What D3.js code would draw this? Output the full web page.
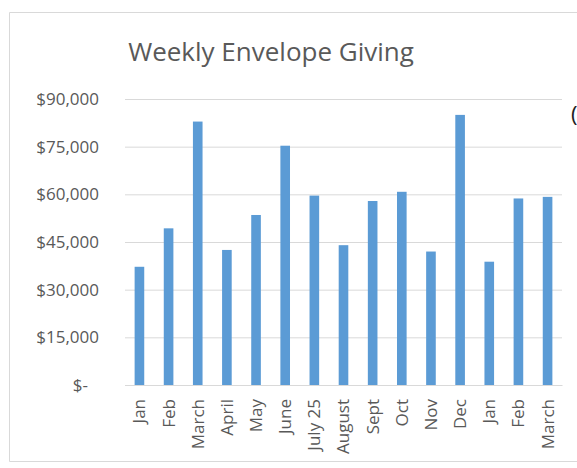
<!DOCTYPE html>
<html>
<head>
<meta charset="utf-8">
<script src="https://cdn.jsdelivr.net/npm/d3@7"></script>
<style>
  html, body { margin: 0; background: #fff; overflow: hidden; }
  svg { display: block; }
  text { font-family: "Open Sans", sans-serif; }
</style>
</head>
<body>
<div id="chart"></div>
<script>
const months = ["Jan", "Feb", "March", "April", "May", "June", "July 25", "August",
  "Sept", "Oct", "Nov", "Dec", "Jan", "Feb", "March"];
const giving = [37200, 49300, 82900, 42500, 53500, 75300, 59600, 44000,
  57900, 60800, 42000, 85000, 38800, 58700, 59200];
const yTicks = [0, 15000, 30000, 45000, 60000, 75000, 90000];
const yTickLabels = ["$-", "$15,000", "$30,000", "$45,000", "$60,000", "$75,000", "$90,000"];

const width = 577;
const height = 468;
const margin = { left: 125, right: 15, top: 99, bottom: 83 };

const svg = d3.select("#chart").append("svg")
  .attr("width", width)
  .attr("height", height);

// chart frame, right side runs off the picture
svg.append("path")
  .attr("d", "M600,12.5H9.5V461.5H600")
  .attr("fill", "none")
  .attr("stroke", "#d9d9d9");

svg.append("text")
  .attr("x", 271).attr("y", 61)
  .attr("text-anchor", "middle")
  .attr("font-size", 26)
  .attr("fill", "#595959")
  .text("Weekly Envelope Giving");

// bit of something cut at the right edge
svg.append("text")
  .attr("x", 571).attr("y", 122)
  .attr("font-size", 22)
  .attr("fill", "#222")
  .text("(");

const xScale = d3.scaleBand()
  .domain(d3.range(months.length))
  .range([margin.left, width - margin.right])
  .paddingInner(0.67)
  .paddingOuter(0.33);

const yScale = d3.scaleLinear()
  .domain([0, 90000])
  .range([height - margin.bottom, margin.top]);

const yAxis = d3.axisLeft(yScale)
  .tickValues(yTicks)
  .tickSize(0)
  .tickPadding(26)
  .tickFormat((d, i) => yTickLabels[i]);

svg.append("g")
  .attr("transform", `translate(${margin.left}, 0)`)
  .call(yAxis)
  .call((g) => g.select(".domain").remove())
  .call((g) => g.selectAll(".tick line").clone()
    .attr("x2", width - margin.left - margin.right)
    .attr("stroke", "#d9d9d9"))
  .call((g) => g.selectAll(".tick text")
    .attr("fill", "#595959")
    .attr("font-size", 17)
    .attr("dx", (d) => (d === 0 ? -11 : 0)));

svg.append("g")
  .selectAll("rect")
  .data(giving)
  .join("rect")
  .attr("x", (d, i) => xScale(i))
  .attr("y", (d) => yScale(d))
  .attr("width", xScale.bandwidth())
  .attr("height", (d) => yScale(0) - yScale(d))
  .attr("fill", "#5b9bd5");

const xAxis = d3.axisBottom(xScale)
  .tickSize(0)
  .tickFormat((i) => months[i]);

svg.append("g")
  .attr("transform", `translate(0, ${height - margin.bottom})`)
  .call(xAxis)
  .call((g) => g.select(".domain").attr("stroke", "#d9d9d9"))
  .call((g) => g.selectAll(".tick text")
    .attr("fill", "#595959")
    .attr("font-size", 17)
    .attr("text-anchor", "end")
    .attr("transform", "rotate(-90)")
    .attr("x", -14)
    .attr("y", 0)
    .attr("dy", "0.35em"));
</script>
</body>
</html>
